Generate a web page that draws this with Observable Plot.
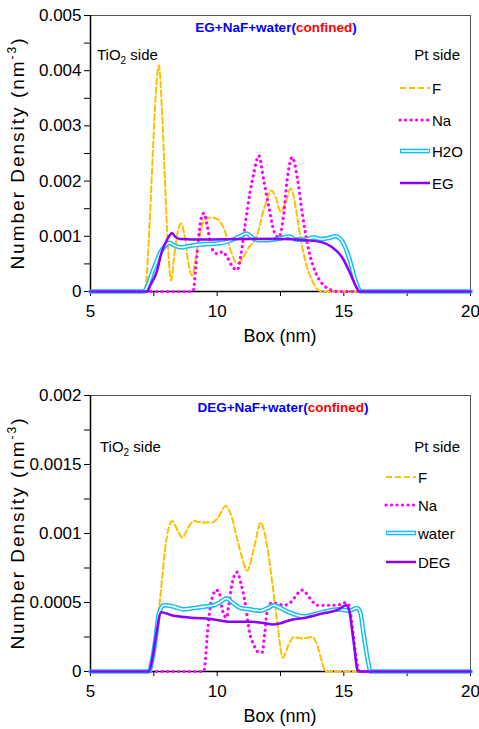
<!DOCTYPE html>
<html><head><meta charset="utf-8">
<script src="https://cdn.jsdelivr.net/npm/d3@7"></script>
<script src="https://cdn.jsdelivr.net/npm/@observablehq/plot@0.6"></script>
<style>
body{margin:0;background:#fff;font-family:"Liberation Sans",Arial,sans-serif;}
svg{display:block}
</style></head><body><div id="c"></div><script>
// ---------- data ----------
const xMajor = [5, 10, 15, 20];
const xMinor = [7.5, 12.5, 17.5];

// Top chart: EG + NaF + water
const topYMajor = [0, 0.001, 0.002, 0.003, 0.004, 0.005];
const topYMinor = [0.0005, 0.0015, 0.0025, 0.0035, 0.0045];
const topLabels = ["F", "Na", "H2O", "EG"];

const topF_x = [5, 7.1, 7.2, 7.32, 7.45, 7.58, 7.7, 7.82, 7.94, 8.06, 8.18, 8.32, 8.45, 8.58, 8.72, 8.87, 9.01, 9.15, 9.3, 9.5, 9.8, 10.05, 10.3, 10.55, 10.79, 11.0, 11.25, 11.55, 11.85, 12.14, 12.32, 12.5, 12.7, 12.89, 13.03, 13.16, 13.36, 13.55, 13.75, 14.0, 14.2, 20];
const topF_y = [0, 0, 0.0002, 0.0011, 0.0024, 0.0036, 0.0041, 0.0033, 0.002, 0.0008, 0.0002, 0.0007, 0.0011, 0.00123, 0.001, 0.0005, 0.00029, 0.0006, 0.001, 0.0013, 0.00134, 0.0013, 0.0011, 0.00072, 0.00051, 0.0006, 0.0008, 0.00098, 0.0015, 0.00183, 0.0017, 0.00145, 0.0016, 0.00186, 0.0017, 0.00135, 0.0008, 0.00044, 0.0002, 0.00002, 0, 0];

const topNa_x = [5, 9.05, 9.15, 9.25, 9.36, 9.48, 9.6, 9.75, 9.9, 10.05, 10.2, 10.4, 10.6, 10.79, 10.95, 11.1, 11.3, 11.45, 11.64, 11.84, 12.04, 12.24, 12.43, 12.63, 12.76, 12.96, 13.16, 13.36, 13.62, 13.88, 14.15, 14.54, 14.8, 20];
const topNa_y = [0, 0, 0.0004, 0.0009, 0.0013, 0.00142, 0.0012, 0.00085, 0.0007, 0.00068, 0.00072, 0.00062, 0.00045, 0.00039, 0.0007, 0.0012, 0.0018, 0.00215, 0.00246, 0.00201, 0.00153, 0.0011, 0.00098, 0.00141, 0.00201, 0.00243, 0.00207, 0.00141, 0.00074, 0.00035, 0.00014, 0.00002, 0, 0];

const topW_x = [5, 7.1, 7.25, 7.4, 7.57, 7.75, 7.9, 8.1, 8.3, 8.55, 8.95, 9.3, 9.6, 10.0, 10.3, 10.66, 10.9, 11.16, 11.4, 11.6, 12.0, 12.4, 12.83, 13.1, 13.5, 13.8, 14.1, 14.4, 14.67, 14.95, 15.2, 15.46, 15.62, 15.7, 20];
const topW_y = [0, 0, 0.0001, 0.0003, 0.0005, 0.0007, 0.0008, 0.00088, 0.00084, 0.0008, 0.00083, 0.00085, 0.00086, 0.00087, 0.00089, 0.00095, 0.001, 0.00105, 0.00097, 0.00093, 0.00093, 0.00095, 0.001, 0.00094, 0.00094, 0.00098, 0.00095, 0.00097, 0.001, 0.0009, 0.00062, 0.0002, 0.00002, 0, 0];

const topG_x = [5, 7.25, 7.35, 7.63, 7.8, 7.96, 8.1, 8.22, 8.35, 8.55, 9.5, 11, 12.5, 13.5, 14.15, 14.54, 14.93, 15.26, 15.53, 15.62, 20];
const topG_y = [0, 0, 0.0001, 0.00038, 0.0007, 0.00088, 0.001, 0.00106, 0.00099, 0.00095, 0.00094, 0.00095, 0.00095, 0.00093, 0.00089, 0.0008, 0.00062, 0.00032, 0.00005, 0, 0];

// Bottom chart: DEG + NaF + water
const botYMajor = [0, 0.0005, 0.001, 0.0015, 0.002];
const botYMinor = [0.00025, 0.00075, 0.00125, 0.00175];
const botLabels = ["F", "Na", "water", "DEG"];

const botF_x = [5, 7.3, 7.45, 7.6, 7.76, 7.96, 8.22, 8.42, 8.62, 8.85, 9.08, 9.45, 9.8, 10.05, 10.33, 10.59, 10.79, 10.99, 11.18, 11.45, 11.72, 11.97, 12.17, 12.37, 12.59, 12.83, 13.03, 13.36, 13.75, 13.95, 14.14, 14.28, 20];
const botF_y = [0, 0, 0.0001, 0.00028, 0.00055, 0.00091, 0.00109, 0.00103, 0.00097, 0.00104, 0.00109, 0.00108, 0.00108, 0.00112, 0.0012, 0.00111, 0.00096, 0.00082, 0.00073, 0.00089, 0.00108, 0.00091, 0.00065, 0.00036, 0.0001, 0.0002, 0.00025, 0.00024, 0.00025, 0.00019, 0.00007, 0, 0];

const botNa_x = [5, 9.47, 9.54, 9.6, 9.67, 9.74, 9.85, 9.93, 10.07, 10.2, 10.37, 10.46, 10.59, 10.79, 10.92, 11.12, 11.25, 11.45, 11.64, 11.78, 11.88, 11.97, 12.17, 12.4, 12.63, 12.83, 13.03, 13.2, 13.36, 13.5, 13.75, 13.95, 14.2, 14.6, 14.95, 15.07, 15.2, 15.35, 15.5, 15.6, 20];
const botNa_y = [0, 0, 0.00009, 0.00024, 0.00038, 0.00048, 0.00056, 0.00059, 0.00058, 0.00045, 0.00039, 0.00048, 0.00064, 0.00072, 0.00065, 0.00048, 0.00031, 0.00019, 0.00014, 0.00014, 0.00028, 0.00043, 0.0005, 0.00049, 0.00048, 0.00049, 0.00053, 0.00057, 0.00059, 0.00057, 0.00051, 0.00048, 0.00048, 0.00048, 0.00049, 0.0005, 0.00048, 0.0003, 0.00008, 0, 0];

const botW_x = [5, 7.3, 7.45, 7.57, 7.7, 7.89, 8.29, 8.68, 9.1, 9.5, 9.87, 10.1, 10.37, 10.66, 10.92, 11.3, 11.71, 12.0, 12.24, 12.5, 12.83, 13.42, 14.14, 14.8, 15.2, 15.53, 15.66, 15.79, 15.96, 16.05, 20];
const botW_y = [0, 0, 0.0001, 0.00024, 0.00042, 0.00048, 0.00047, 0.00045, 0.00046, 0.00047, 0.00048, 0.0005, 0.00053, 0.00049, 0.00046, 0.00045, 0.00044, 0.00046, 0.00048, 0.00046, 0.00043, 0.0004, 0.00043, 0.00045, 0.00044, 0.00046, 0.00042, 0.00026, 0.00007, 0, 0];

const botG_x = [5, 7.3, 7.45, 7.57, 7.79, 8.16, 8.95, 9.74, 10.53, 11.32, 11.9, 12.17, 12.5, 12.83, 13.49, 14.14, 14.8, 15.09, 15.2, 15.39, 15.56, 20];
const botG_y = [0, 0, 0.0001, 0.00024, 0.00043, 0.00041, 0.00039, 0.00038, 0.00036, 0.00036, 0.00035, 0.00034, 0.00035, 0.00037, 0.00039, 0.00042, 0.00045, 0.00048, 0.00045, 0.00021, 0, 0];

// ---------- styles ----------
const COL_F = "#FFC000", COL_NA = "#FF00FF", COL_W = "#12BEF4", COL_G = "#8B00FF";
const FONT = "Liberation Sans, Arial, Helvetica, sans-serif";
const NA_DASH = "0.1,5.4";

const pts = (xs, ys) => xs.map((x, i) => ({x, y: ys[i]}));

function chart(o) {
  const F = pts(o.F[0], o.F[1]), Na = pts(o.Na[0], o.Na[1]), W = pts(o.W[0], o.W[1]), G = pts(o.G[0], o.G[1]);
  const curve = "monotone-x";
  const svg = Plot.plot({
    width: 479, height: o.height,
    marginLeft: 90, marginRight: 9, marginTop: o.marginTop, marginBottom: o.marginBottom,
    style: {fontFamily: FONT, fontSize: "17px", background: "white", color: "black", overflow: "visible"},
    x: {domain: [5, 20], label: null},
    y: {domain: [0, o.yMax], label: null},
    marks: [
      Plot.frame({stroke: "#555", strokeWidth: 1}),
      Plot.axisX({ticks: xMajor, tickSize: 5, tickPadding: 8, tickFormat: d => String(d), label: null, stroke: "black"}),
      Plot.axisX({ticks: xMinor, tickSize: 5, tickFormat: () => "", label: null, stroke: "black"}),
      Plot.axisY({ticks: o.yMajor, tickSize: 6, tickPadding: 3, tickFormat: d => String(d), label: null, stroke: "black"}),
      Plot.axisY({ticks: o.yMinor, tickSize: 6, tickFormat: () => "", label: null, stroke: "black"}),
      Plot.ruleX([5], {stroke: "black", strokeWidth: 1.5}),
      Plot.ruleY([0], {stroke: "black", strokeWidth: 1.5}),
      Plot.line(F, {x: "x", y: "y", curve, stroke: COL_F, strokeWidth: 2, strokeDasharray: "6,3"}),
      Plot.line(Na, {x: "x", y: "y", curve, stroke: COL_NA, strokeWidth: 3.2, strokeDasharray: NA_DASH, strokeLinecap: "round"}),
      Plot.line(W, {x: "x", y: "y", curve, stroke: COL_W, strokeWidth: 4.6}),
      Plot.line(W, {x: "x", y: "y", curve, stroke: "white", strokeWidth: 1.6}),
      Plot.line(G, {x: "x", y: "y", curve, stroke: COL_G, strokeWidth: 2.5})
    ]
  });
  const s = d3.select(svg);
  // title
  const t = s.append("text").attr("x", o.titleX).attr("y", o.titleY).attr("text-anchor", "middle")
    .attr("font-family", FONT).attr("font-weight", "bold").attr("font-size", 13.5).attr("fill", "#0000FF");
  t.append("tspan").text(o.title + "(");
  t.append("tspan").attr("fill", "#FF0000").text("confined");
  t.append("tspan").text(")");
  // side annotations
  const ti = s.append("text").attr("x", o.tiX).attr("y", o.sideY).attr("text-anchor", "start")
    .attr("font-family", FONT).attr("font-size", 15);
  ti.append("tspan").text("TiO");
  ti.append("tspan").attr("font-size", 10).attr("dy", 4).text("2");
  ti.append("tspan").attr("dy", -4).text(" side");
  s.append("text").attr("x", 460).attr("y", o.sideY).attr("text-anchor", "end")
    .attr("font-family", FONT).attr("font-size", 15).text("Pt side");
  // legend
  const styles = [
    {stroke: COL_F, w: 2, dash: "6,3"},
    {stroke: COL_NA, w: 3.2, dash: NA_DASH, cap: "round"},
    {stroke: COL_W, w: 4.6, dash: null, inner: true},
    {stroke: COL_G, w: 2.5, dash: null}
  ];
  o.labels.forEach((lab, i) => {
    const y = o.legY[i];
    const st = styles[i];
    const l = s.append("line").attr("x1", o.legX).attr("x2", o.legX + 30).attr("y1", y).attr("y2", y)
      .attr("stroke", st.stroke).attr("stroke-width", st.w);
    if (st.dash) l.attr("stroke-dasharray", st.dash);
    if (st.cap) l.attr("stroke-linecap", st.cap);
    if (st.inner) s.append("line").attr("x1", o.legX + 1).attr("x2", o.legX + 29).attr("y1", y).attr("y2", y)
      .attr("stroke", "white").attr("stroke-width", 1.6);
    s.append("text").attr("x", o.legX + 32).attr("y", y + 6).attr("text-anchor", "start")
      .attr("font-family", FONT).attr("font-size", 15).text(lab);
  });
  // axis titles
  s.append("text").attr("x", 280).attr("y", o.xLabY).attr("text-anchor", "middle")
    .attr("font-family", FONT).attr("font-size", 18).text("Box (nm)");
  const yl = s.append("text").attr("transform", `translate(24,${o.yLabC}) rotate(-90)`).attr("text-anchor", "middle")
    .attr("font-family", FONT).attr("font-size", 19).attr("letter-spacing", 2);
  yl.append("tspan").text("Number Density (nm");
  yl.append("tspan").attr("font-size", 12).attr("dy", -8).text("-3");
  yl.append("tspan").attr("dy", 8).text(")");
  return svg;
}

const c = document.getElementById("c");
c.appendChild(chart({
  height: 365, marginTop: 15, marginBottom: 74, yMax: 0.005,
  yMajor: topYMajor, yMinor: topYMinor,
  F: [topF_x, topF_y], Na: [topNa_x, topNa_y], W: [topW_x, topW_y], G: [topG_x, topG_y],
  title: "EG+NaF+water", titleX: 276, titleY: 32,
  tiX: 97, sideY: 60, labels: topLabels, legX: 400, legY: [88, 120, 151, 183],
  xLabY: 342, yLabC: 153
}));
c.appendChild(chart({
  height: 364, marginTop: 30, marginBottom: 58, yMax: 0.002,
  yMajor: botYMajor, yMinor: botYMinor,
  F: [botF_x, botF_y], Na: [botNa_x, botNa_y], W: [botW_x, botW_y], G: [botG_x, botG_y],
  title: "DEG+NaF+water", titleX: 283, titleY: 47,
  tiX: 100, sideY: 87, labels: botLabels, legX: 386, legY: [112, 140, 168, 197],
  xLabY: 357, yLabC: 168
}));
</script></body></html>
